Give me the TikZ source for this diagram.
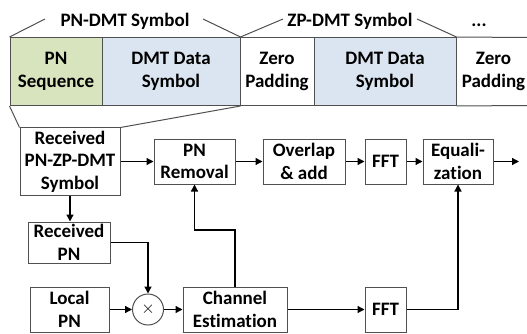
\documentclass[tikz,border=0pt]{standalone}
\usepackage{fontspec}
\setmainfont{Carlito}[Ligatures=NoCommon]
\usetikzlibrary{arrows.meta}
\definecolor{pngreen}{RGB}{215,228,189}
\definecolor{dmtblue}{RGB}{219,229,241}
\definecolor{edge}{RGB}{80,80,80}

\tikzstyle{every node}+=[inner sep=0pt, font=\fontsize{19}{22.5}\selectfont\bfseries, align=center]
\tikzstyle{seg}=[draw=edge, line width=1pt, minimum height=68pt]
\tikzstyle{blk}=[draw=edge, line width=1pt, minimum height=45pt]
\tikzstyle{arr}=[black, line width=1.3pt, -{Triangle[length=7pt,width=7pt]}]
\tikzstyle{ln}=[edge, line width=1pt]

\begin{document}
\begin{tikzpicture}[x=1pt,y=-1pt]
\useasboundingbox (0,0) rectangle (527,334);

% frame structure
\node [seg, fill=pngreen, minimum width=92pt] (pnseq) at (56,71.5) {PN\\Sequence};
\node [seg, fill=dmtblue, minimum width=138pt] (dmta) at (171,71.5) {DMT Data\\Symbol};
\node [seg, minimum width=74pt] (zpa) at (277,71.5) {Zero\\Padding};
\node [seg, fill=dmtblue, minimum width=142pt] (dmtb) at (385,71.5) {DMT Data\\Symbol};
\node (zpb) at (493.5,71.5) {Zero\\Padding};
\coordinate (zpbt) at (527,37.5);
\coordinate (zpbb) at (527,105.5);
\draw [ln] (dmtb.north east) -- (zpbt);
\draw [ln] (dmtb.south east) -- (zpbb);

\node [anchor=base] (pndmt) at (125,26.5) {PN-DMT Symbol};
\node [anchor=base] (zpdmt) at (350,26.5) {ZP-DMT Symbol};
\node [anchor=base] (dots) at (479,26.5) {...};
\coordinate (pnl) at (45,19);
\coordinate (pnr) at (203,19);
\coordinate (zpl) at (283,19);
\coordinate (zpr) at (417,19);
\draw [ln] (pnseq.north west) -- (pnl);
\draw [ln] (dmta.north east) -- (pnr);
\draw [ln] (dmta.north east) -- (zpl);
\draw [ln] (dmtb.north east) -- (zpr);

% receiver
\node [blk, minimum width=100pt, minimum height=67pt] (rx) at (70,161.5) {Received\\PN-ZP-DMT\\Symbol};
\draw [ln] (pnseq.south west) -- (rx.north west);
\draw [ln] (dmta.south east) -- (rx.north east);

\node [blk, minimum width=81pt] (pnrem) at (194.5,161.5) {PN\\Removal};
\node [blk, minimum width=82pt] (ola) at (304,161.5) {Overlap\\\& add};
\node [blk, minimum width=41pt] (ffta) at (385.5,161.5) {FFT};
\node [blk, minimum width=70pt] (eq) at (458,161.5) {Equali-\\zation};
\coordinate (out) at (519,161.5);

\node [blk, minimum width=82pt, minimum height=41pt] (rxpn) at (69,242.5) {Received\\PN};
\node [blk, minimum width=79pt] (lpn) at (69.5,309.5) {Local\\PN};
\node [draw=edge, line width=1pt, circle, minimum size=31pt] (mult) at (148,309.5) {\mdseries$\times$};
\node [blk, minimum width=104pt] (chest) at (235,309.5) {Channel\\Estimation};
\node [blk, minimum width=41pt] (fftb) at (385.5,309.5) {FFT};
\coordinate (fb) at (235,230);

\draw [arr] (rx) -- (pnrem);
\draw [arr] (pnrem) -- (ola);
\draw [arr] (ola) -- (ffta);
\draw [arr] (ffta) -- (eq);
\draw [arr] (eq) -- (out);
\draw [arr] (rx.south) -- (rx.south |- rxpn.north);
\draw [arr] (rxpn.east) -| (mult.north);
\draw [arr] (lpn) -- (mult);
\draw [arr] (mult) -- (chest);
\draw [arr] (chest) -- (fftb);
\draw [arr] (chest.north) -- (fb) -| (pnrem.south);
\draw [arr] (fftb.east) -| (eq.south);
\end{tikzpicture}
\end{document}
